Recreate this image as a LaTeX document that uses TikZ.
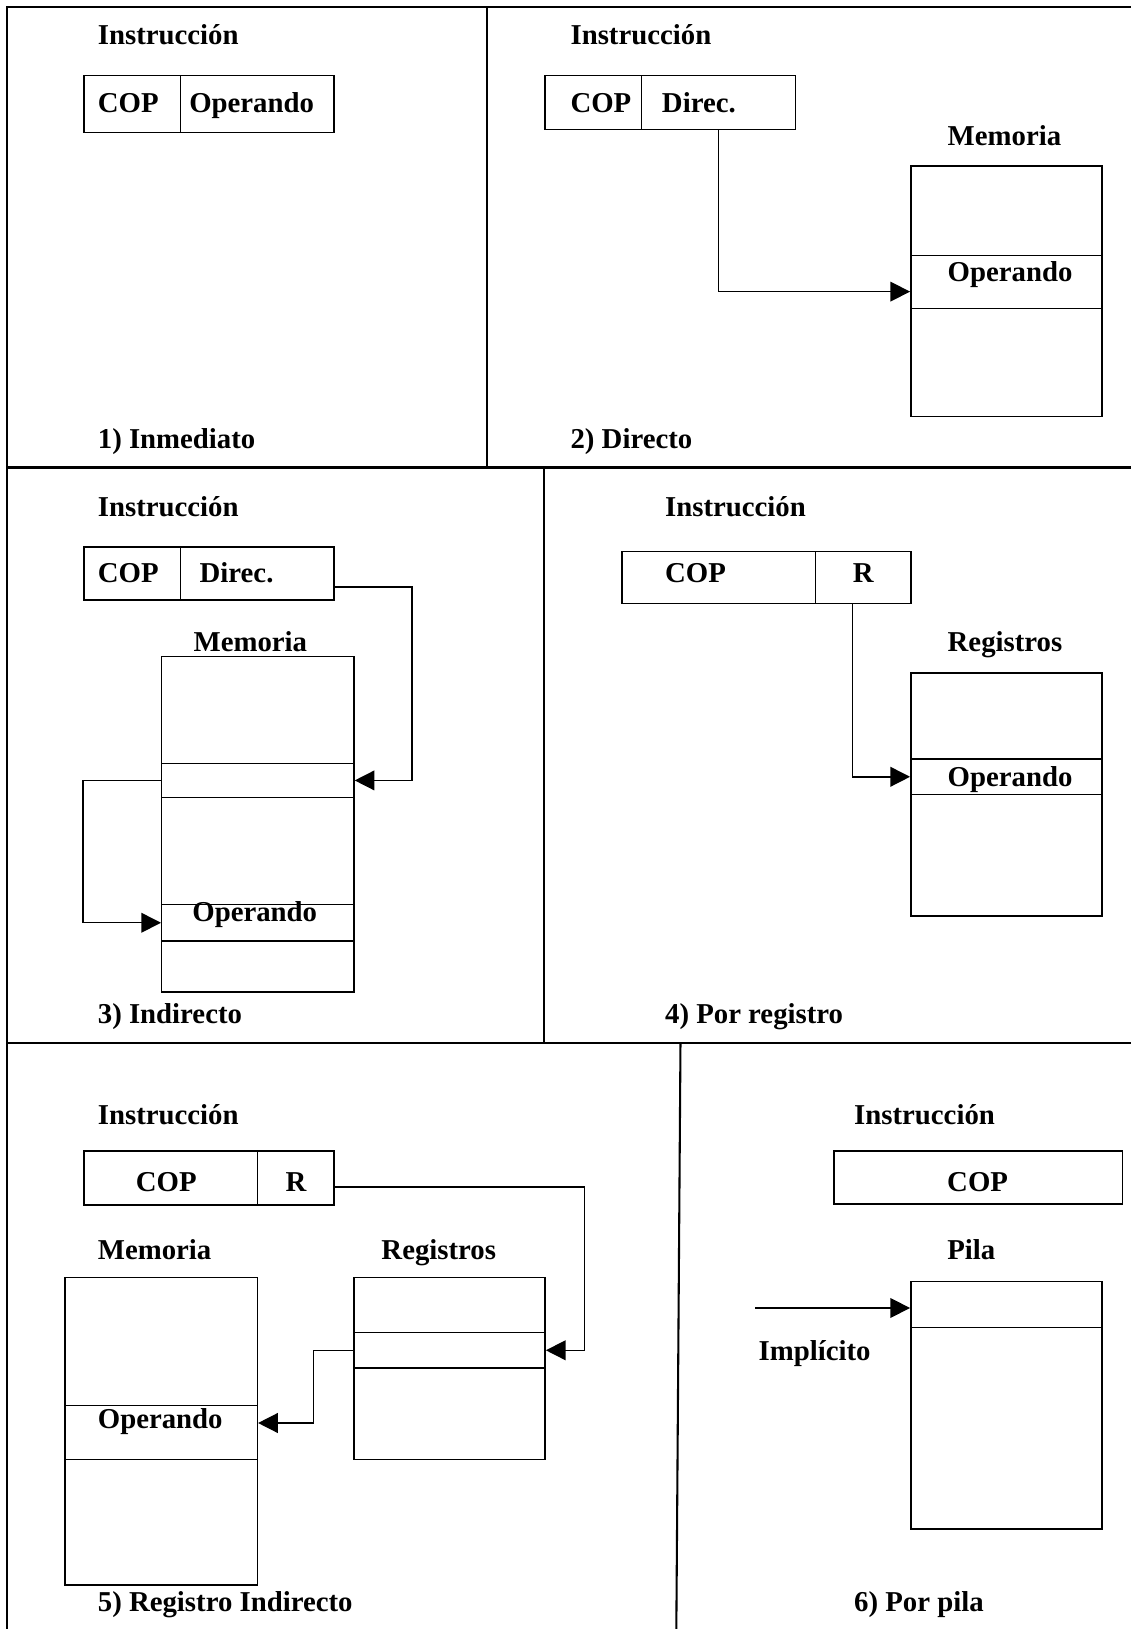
\documentclass[tikz,border=0pt]{standalone}
\usepackage{fontspec}
\setmainfont{Liberation Serif}
\usetikzlibrary{arrows.meta}

\begin{document}
\begin{tikzpicture}[x=1pt,y=-1pt,
  frame/.style={line width=2pt},
  cell/.style={draw, line width=1.4pt, rectangle, inner sep=0pt, anchor=north west},
  lbl/.style={anchor=base west, inner sep=0pt, font=\bfseries\fontsize{27.7}{32}\selectfont},
  clbl/.style={anchor=base, inner sep=0pt, font=\bfseries\fontsize{27.7}{32}\selectfont},
  wire/.style={line width=1.4pt},
  arr/.style={line width=1.4pt, -{Triangle[length=19pt,width=19pt]}}
]
\useasboundingbox (0,0) rectangle (1089,1568);

% panel frame
\draw[frame] (6.5,1568) -- (6.5,6.5) -- (1089,6.5);
\draw[frame] (6.5,450) -- (1089,450);
\draw[frame] (6.5,1004) -- (1089,1004);
\draw[frame] (469,6.5) -- (469,450);
\draw[frame] (524,450) -- (524,1004);
\draw[frame] (655,1004) -- (651,1568);

% ---------- 1) Inmediato ----------
\node[lbl] (ins1) at (94,43) {Instrucción};
\node[cell, minimum width=93pt, minimum height=55pt] (cop1) at (80,72) {};
\node[cell, minimum width=148pt, minimum height=55pt] (opd1) at (173,72) {};
\node[lbl] (cop1t) at (94,108) {COP};
\node[lbl] (opd1t) at (182,108) {Operando};
\node[lbl] (cap1) at (94,432) {1) Inmediato};

% ---------- 2) Directo ----------
\node[lbl] (ins2) at (549,43) {Instrucción};
\node[cell, minimum width=93pt, minimum height=52pt] (cop2) at (524,72) {};
\node[cell, minimum width=148pt, minimum height=52pt] (dir2) at (617,72) {};
\node[lbl] (cop2t) at (549,108) {COP};
\node[lbl] (dir2t) at (637,108) {Direc.};
\node[lbl] (mem2t) at (912,140) {Memoria};
\node[cell, minimum width=184pt, minimum height=241pt] (mem2) at (876,159) {};
\node[cell, minimum width=184pt, minimum height=51pt] (mem2c) at (876,245) {};
\node[lbl] (mem2o) at (912,271) {Operando};
\node[lbl] (cap2) at (549,432) {2) Directo};
\draw[arr] (dir2.south) |- ([yshift=-9.5pt]mem2c.west);

% ---------- 3) Indirecto ----------
\node[lbl] (ins3) at (94,497) {Instrucción};
\node[cell, minimum width=93pt, minimum height=51pt] (cop3) at (80,526) {};
\node[cell, minimum width=148pt, minimum height=51pt] (dir3) at (173,526) {};
\node[lbl] (cop3t) at (94,561) {COP};
\node[lbl] (dir3t) at (192,561) {Direc.};
\node[cell, minimum width=185pt, minimum height=323pt] (mem3) at (155,631) {};
\node[cell, minimum width=185pt, minimum height=33pt] (mem3a) at (155,734) {};
\node[cell, minimum width=185pt, minimum height=35pt] (mem3b) at (155,870) {};
\node[clbl] (mem3t) at (241,627) {Memoria};
\node[lbl] (mem3o) at (185,887) {Operando};
\node[lbl] (cap3) at (94,985) {3) Indirecto};
\draw[arr] ([yshift=-13pt]dir3.east) -- ++(74,0) |- (mem3a.east);
\draw[arr] (mem3a.west) -- ++(-75,0) |- (mem3b.west);

% ---------- 4) Por registro ----------
\node[lbl] (ins4) at (640,497) {Instrucción};
\node[cell, minimum width=186pt, minimum height=50pt] (cop4) at (598,530) {};
\node[cell, minimum width=92pt, minimum height=50pt] (r4) at (784,530) {};
\node[lbl] (cop4t) at (640,561) {COP};
\node[clbl] (r4t) at (831,561) {R};
\node[lbl] (reg4t) at (912,627) {Registros};
\node[cell, minimum width=184pt, minimum height=234pt] (reg4) at (876,647) {};
\node[cell, minimum width=184pt, minimum height=34pt] (reg4c) at (876,730) {};
\node[lbl] (reg4o) at (912,757) {Operando};
\node[lbl] (cap4) at (640,985) {4) Por registro};
\draw[arr] ([xshift=-10pt]r4.south) |- (reg4c.west);

% ---------- 5) Registro Indirecto ----------
\node[lbl] (ins5) at (94,1082) {Instrucción};
\node[cell, minimum width=167pt, minimum height=52pt] (cop5) at (80,1107) {};
\node[cell, minimum width=74pt, minimum height=52pt] (r5) at (247,1107) {};
\node[clbl] (cop5t) at (160,1147) {COP};
\node[clbl] (r5t) at (285,1147) {R};
\node[lbl] (mem5t) at (94,1212) {Memoria};
\node[lbl] (reg5t) at (367,1212) {Registros};
\node[cell, minimum width=185pt, minimum height=296pt] (mem5) at (62,1229) {};
\node[cell, minimum width=185pt, minimum height=52pt] (mem5c) at (62,1352) {};
\node[lbl] (mem5o) at (94,1375) {Operando};
\node[cell, minimum width=184pt, minimum height=175pt] (reg5) at (340,1229) {};
\node[cell, minimum width=184pt, minimum height=34pt] (reg5c) at (340,1282) {};
\node[lbl] (cap5) at (94,1551) {5) Registro Indirecto};
\draw[arr] ([yshift=-9pt]r5.east) -- ++(240,0) |- (reg5c.east);
\draw[arr] (reg5c.west) -- ++(-38,0) |- ([yshift=9pt]mem5c.east);

% ---------- 6) Por pila ----------
\node[lbl] (ins6) at (822,1082) {Instrucción};
\node[cell, minimum width=278pt, minimum height=51pt] (cop6) at (802,1107) {};
\node[clbl] (cop6t) at (941,1147) {COP};
\node[clbl] (pil6t) at (935,1212) {Pila};
\node[cell, minimum width=184pt, minimum height=238pt] (pil6) at (876,1233) {};
\node[cell, minimum width=184pt, minimum height=44pt] (pil6c) at (876,1233) {};
\node[lbl] (imp6) at (730,1310) {Implícito};
\node[lbl] (cap6) at (822,1551) {6) Por pila};
\coordinate (src6) at (727,1259);
\draw[arr] (src6) -- (src6 -| pil6c.west);
\end{tikzpicture}
\end{document}
